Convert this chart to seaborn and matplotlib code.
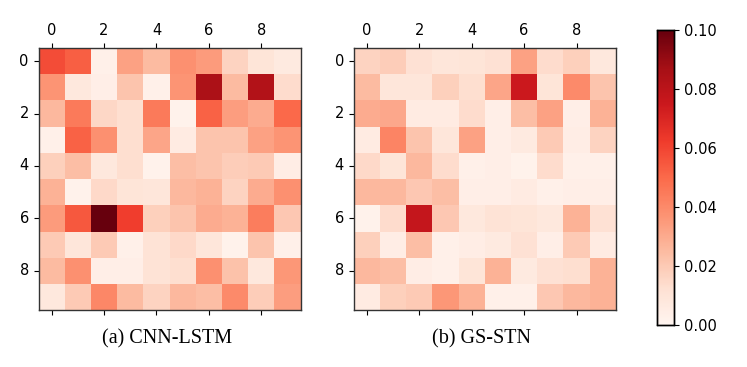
import numpy as np
import pandas as pd
import matplotlib
matplotlib.use("Agg")
import matplotlib.pyplot as plt
import seaborn as sns

# ===== DATA =====
cnn_lstm = [
    [0.058, 0.053, 0.003, 0.033, 0.025, 0.038, 0.035, 0.017, 0.010, 0.007],
    [0.037, 0.008, 0.004, 0.022, 0.003, 0.037, 0.085, 0.025, 0.083, 0.014],
    [0.026, 0.045, 0.016, 0.013, 0.045, 0.002, 0.052, 0.034, 0.030, 0.050],
    [0.003, 0.052, 0.038, 0.013, 0.032, 0.006, 0.022, 0.022, 0.033, 0.037],
    [0.018, 0.024, 0.008, 0.013, 0.002, 0.024, 0.022, 0.019, 0.020, 0.005],
    [0.028, 0.002, 0.015, 0.010, 0.009, 0.026, 0.028, 0.017, 0.030, 0.038],
    [0.035, 0.055, 0.100, 0.062, 0.018, 0.022, 0.030, 0.028, 0.044, 0.021],
    [0.020, 0.009, 0.020, 0.003, 0.011, 0.015, 0.009, 0.002, 0.022, 0.003],
    [0.025, 0.038, 0.004, 0.004, 0.011, 0.013, 0.038, 0.023, 0.008, 0.036],
    [0.008, 0.020, 0.041, 0.025, 0.017, 0.026, 0.024, 0.040, 0.019, 0.034],
]

gs_stn = [
    [0.017, 0.019, 0.012, 0.009, 0.010, 0.012, 0.033, 0.014, 0.018, 0.008],
    [0.025, 0.009, 0.009, 0.018, 0.013, 0.032, 0.075, 0.010, 0.040, 0.022],
    [0.030, 0.031, 0.006, 0.006, 0.014, 0.004, 0.024, 0.033, 0.004, 0.028],
    [0.006, 0.042, 0.022, 0.009, 0.033, 0.004, 0.007, 0.020, 0.005, 0.017],
    [0.015, 0.010, 0.026, 0.014, 0.003, 0.004, 0.002, 0.014, 0.003, 0.003],
    [0.026, 0.026, 0.021, 0.024, 0.004, 0.004, 0.006, 0.003, 0.004, 0.004],
    [0.002, 0.014, 0.077, 0.021, 0.008, 0.011, 0.010, 0.008, 0.028, 0.012],
    [0.018, 0.005, 0.024, 0.003, 0.005, 0.007, 0.012, 0.004, 0.020, 0.006],
    [0.026, 0.024, 0.005, 0.003, 0.010, 0.028, 0.007, 0.012, 0.013, 0.028],
    [0.006, 0.018, 0.020, 0.036, 0.028, 0.003, 0.003, 0.021, 0.026, 0.028],
]

captions = ["(a) CNN-LSTM", "(b) GS-STN"]
cbar_ticks = [0.00, 0.02, 0.04, 0.06, 0.08, 0.10]

# ===== FIGURE =====
fig = plt.figure(figsize=(7.47, 3.67), dpi=100)

ax_positions = [
    [0.051, 0.155, 0.352, 0.714],
    [0.473, 0.155, 0.352, 0.714],
]
cbar_ax = fig.add_axes([0.8795, 0.114, 0.0228, 0.804])

for i, (data, caption) in enumerate(zip([cnn_lstm, gs_stn], captions)):
    ax = fig.add_axes(ax_positions[i])
    df = pd.DataFrame(np.array(data))
    sns.heatmap(
        df,
        cmap="Reds",
        vmin=0,
        vmax=0.1,
        ax=ax,
        cbar=(i == 1),
        cbar_ax=cbar_ax if i == 1 else None,
        xticklabels=2,
        yticklabels=2,
        square=True,
    )
    ax.tick_params(top=True, labeltop=True, bottom=True, labelbottom=False,
                   left=True, labelleft=True, labelsize=10.5, length=3.5,
                   color="black")
    ax.set_xticklabels(ax.get_xticklabels(), rotation=0)
    ax.set_yticklabels(ax.get_yticklabels(), rotation=0)
    for spine in ax.spines.values():
        spine.set_visible(True)
        spine.set_linewidth(1.0)
        spine.set_color("#333333")
    pos = ax.get_position()
    fig.text((pos.x0 + pos.x1) / 2 - 0.004, 0.076, caption, ha="center",
             va="center", fontsize=14.5, family="Liberation Serif")

cbar_ax.set_yticks(cbar_ticks)
cbar_ax.set_yticklabels([f"{t:.2f}" for t in cbar_ticks])
cbar_ax.tick_params(labelsize=10.5, length=3.5)
for spine in cbar_ax.spines.values():
    spine.set_visible(True)
    spine.set_linewidth(1.0)

fig.savefig("out.png", dpi=100)
